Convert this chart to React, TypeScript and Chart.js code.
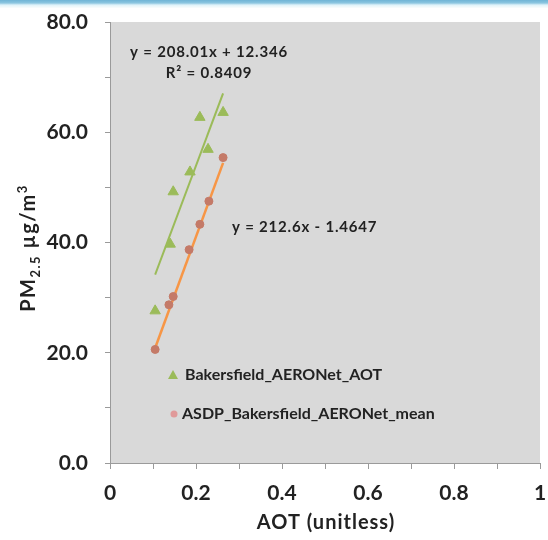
import React, { useEffect, useRef } from 'react';
import { Chart, registerables } from 'chart.js';

Chart.register(...registerables);

// ---- data ----
const aotGreen = [0.105, 0.14, 0.147, 0.186, 0.209, 0.228, 0.263];
const pmGreen = [27.6, 39.7, 49.2, 52.8, 62.7, 56.9, 63.6];
const aotOrange = [0.105, 0.137, 0.147, 0.184, 0.209, 0.23, 0.263];
const pmOrange = [20.6, 28.7, 30.2, 38.7, 43.3, 47.5, 55.4];
const greenFitCoef = [208.01, 12.346];
const orangeFitCoef = [212.6, -1.4647];
const seriesNames = ['Bakersfield_AERONet_AOT', 'ASDP_Bakersfield_AERONet_mean'];
const equationLabels = ['y = 208.01x + 12.346', 'R² = 0.8409', 'y = 212.6x - 1.4647'];
const xTickValues = [0, 0.2, 0.4, 0.6, 0.8, 1];
const yTickValues = [0, 20, 40, 60, 80];
const xTitle = 'AOT (unitless)';

const GREEN = '#9bbb59';
const ORANGE = '#f79646';
const DOT = '#c47a68';
const TEXT = '#222222';
const FONT = 'Lato, "Open Sans", sans-serif';

function fitLine(xs: number[], coef: number[]) {
  const lo = Math.min(...xs);
  const hi = Math.max(...xs);
  return [lo, hi].map((x) => ({ x, y: coef[0] * x + coef[1] }));
}

function setSpacing(ctx: any, v: string) {
  try {
    ctx.letterSpacing = v;
  } catch (e) {}
}

const overlay = {
  id: 'overlay',
  beforeDraw(chart: any) {
    const { ctx, chartArea: a } = chart;
    ctx.save();
    ctx.fillStyle = '#d9d9d9';
    ctx.fillRect(a.left, a.top, a.right - a.left, a.bottom - a.top);
    ctx.restore();
  },
  afterDraw(chart: any) {
    const { ctx, chartArea: a } = chart;
    ctx.save();
    ctx.fillStyle = TEXT;
    ctx.textBaseline = 'middle';
    // equations
    ctx.font = `bold 15px ${FONT}`;
    setSpacing(ctx, '0.8px');
    ctx.textAlign = 'center';
    ctx.fillText(equationLabels[0], a.left + 99, a.top + 30);
    ctx.fillText(equationLabels[1], a.left + 99, a.top + 51);
    ctx.textAlign = 'left';
    ctx.fillText(equationLabels[2], a.left + 122, a.top + 205);

    // legend
    ctx.font = `bold 16px ${FONT}`;
    setSpacing(ctx, '0px');
    const lx = a.left + 63;
    const ly1 = a.top + 353;
    const ly2 = a.top + 392;
    ctx.fillStyle = GREEN;
    ctx.beginPath();
    ctx.moveTo(lx, ly1 - 5);
    ctx.lineTo(lx + 5, ly1 + 4);
    ctx.lineTo(lx - 5, ly1 + 4);
    ctx.closePath();
    ctx.fill();
    ctx.fillStyle = '#e09a9a';
    ctx.beginPath();
    ctx.arc(lx + 1, ly2, 3.5, 0, Math.PI * 2);
    ctx.fill();
    ctx.fillStyle = TEXT;
    ctx.fillText(seriesNames[0], lx + 12, ly1);
    ctx.fillText(seriesNames[1], lx + 9, ly2);

    // x title
    ctx.font = `bold 20px ${FONT}`;
    setSpacing(ctx, '1px');
    ctx.textAlign = 'center';
    ctx.fillText(xTitle, (a.left + a.right) / 2 + 1, 523);

    // y title with sub/superscript
    ctx.translate(35, 248);
    ctx.rotate(-Math.PI / 2);
    ctx.textBaseline = 'alphabetic';
    const parts = [
      { t: 'PM', f: `bold 20px ${FONT}`, dy: 0 },
      { t: '2.5', f: `bold 13px ${FONT}`, dy: 5 },
      { t: ' µg/m', f: `bold 20px ${FONT}`, dy: 0 },
      { t: '3', f: `bold 13px ${FONT}`, dy: -8 },
    ];
    setSpacing(ctx, '1.5px');
    let total = 0;
    parts.forEach((p) => {
      ctx.font = p.f;
      total += ctx.measureText(p.t).width;
    });
    let x = -total / 2;
    ctx.textAlign = 'left';
    parts.forEach((p) => {
      ctx.font = p.f;
      ctx.fillText(p.t, x, p.dy);
      x += ctx.measureText(p.t).width;
    });
    ctx.restore();
  },
};

export default function App() {
  const ref = useRef<HTMLCanvasElement | null>(null);
  useEffect(() => {
    if (!ref.current) return;
    const chart = new Chart(ref.current, {
      type: 'scatter',
      data: {
        datasets: [
          {
            label: seriesNames[0],
            data: aotGreen.map((x, i) => ({ x, y: pmGreen[i] })),
            pointStyle: 'triangle',
            pointRadius: 6,
            backgroundColor: GREEN,
            borderColor: GREEN,
            order: 1,
          },
          {
            label: seriesNames[1],
            data: aotOrange.map((x, i) => ({ x, y: pmOrange[i] })),
            pointStyle: 'circle',
            pointRadius: 4,
            backgroundColor: DOT,
            borderColor: DOT,
            order: 0,
          },
          {
            label: 'fit1',
            type: 'line',
            data: fitLine(aotGreen, greenFitCoef),
            borderColor: GREEN,
            borderWidth: 2,
            pointRadius: 0,
            showLine: true,
            order: 2,
          } as any,
          {
            label: 'fit2',
            type: 'line',
            data: fitLine(aotOrange, orangeFitCoef),
            borderColor: ORANGE,
            borderWidth: 2.5,
            pointRadius: 0,
            showLine: true,
            order: 1,
          } as any,
        ],
      },
      options: {
        animation: false,
        responsive: false,
        layout: { padding: { top: 22, right: 8, left: 0, bottom: 0 } },
        plugins: { legend: { display: false }, tooltip: { enabled: false } },
        scales: {
          x: {
            type: 'linear',
            min: 0,
            max: 1,
            afterFit(s: any) {
              s.height = 77;
              s.paddingLeft = 0;
              s.paddingRight = 0;
            },
            afterBuildTicks(s: any) {
              const t = [];
              for (let i = 0; i <= 10; i++) t.push({ value: i / 10 });
              s.ticks = t;
            },
            ticks: {
              autoSkip: false,
              maxRotation: 0,
              padding: 12,
              color: TEXT,
              font: { family: FONT, size: 21, weight: 'bold' },
              callback: (v: any) => {
                const m = xTickValues.find((t) => Math.abs(t - v) < 1e-6);
                return m === undefined ? '' : String(m);
              },
            },
            grid: { drawOnChartArea: false, drawTicks: true, tickLength: 6, color: '#9a9a9a' },
            border: { color: '#9a9a9a' },
          },
          y: {
            type: 'linear',
            min: 0,
            max: 80,
            afterFit(s: any) {
              s.width = 110;
              s.paddingTop = 0;
              s.paddingBottom = 0;
            },
            afterBuildTicks(s: any) {
              const t = [];
              for (let i = 0; i <= 8; i++) t.push({ value: i * 10 });
              s.ticks = t;
            },
            ticks: {
              autoSkip: false,
              padding: 17,
              color: TEXT,
              font: { family: FONT, size: 21, weight: 'bold' },
              callback: (v: any) => {
                const m = yTickValues.find((t) => Math.abs(t - v) < 1e-6);
                return m === undefined ? '' : m.toFixed(1);
              },
            },
            grid: { drawOnChartArea: false, drawTicks: true, tickLength: 5, color: '#9a9a9a' },
            border: { color: '#9a9a9a' },
          },
        },
      },
      plugins: [overlay],
    } as any);
    return () => chart.destroy();
  }, []);
  return (
    <div style={{ position: 'absolute', left: 0, top: 0, width: 548, height: 540, background: '#ffffff' }}>
      <div
        style={{
          position: 'absolute',
          left: 0,
          top: 0,
          width: 548,
          height: 8,
          background: 'linear-gradient(#6fb4d6 0px, #8cc6e0 3px, #dff3fa 5px, #fbfdfc 8px)',
        }}
      />
      <canvas ref={ref} width={548} height={540} style={{ display: 'block' }} />
    </div>
  );
}
